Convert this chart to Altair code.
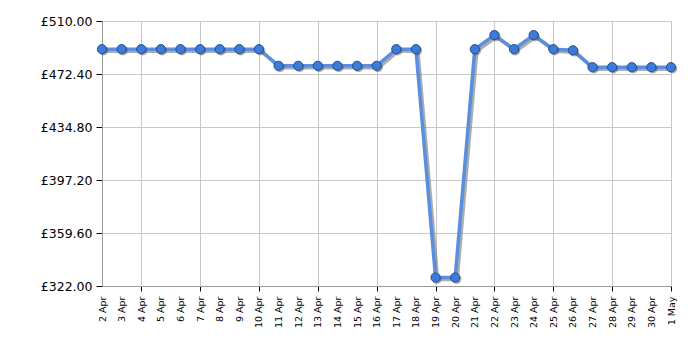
import altair as alt
import pandas as pd

dates = ["2 Apr", "3 Apr", "4 Apr", "5 Apr", "6 Apr", "7 Apr", "8 Apr", "9 Apr", "10 Apr",
         "11 Apr", "12 Apr", "13 Apr", "14 Apr", "15 Apr", "16 Apr", "17 Apr", "18 Apr",
         "19 Apr", "20 Apr", "21 Apr", "22 Apr", "23 Apr", "24 Apr", "25 Apr", "26 Apr",
         "27 Apr", "28 Apr", "29 Apr", "30 Apr", "1 May"]
prices = [490.0, 490.0, 490.0, 490.0, 490.0, 490.0, 490.0, 490.0, 490.0,
          478.2, 478.2, 478.2, 478.2, 478.2, 478.2, 490.0, 490.0,
          328.0, 328.0, 490.0, 500.0, 490.0, 500.0, 490.0, 489.2,
          477.2, 477.2, 477.2, 477.2, 477.2]
y_ticks = [322.0, 359.6, 397.2, 434.8, 472.4, 510.0]

df = pd.DataFrame({"i": list(range(len(dates))), "date": dates, "price": prices})
label_arr = "[" + ",".join("'" + d + "'" for d in dates) + "]"

x = alt.X("i:Q",
          scale=alt.Scale(domain=[0, len(dates) - 1], nice=False, zero=False),
          axis=alt.Axis(values=list(range(len(dates))),
                        labelExpr=label_arr + "[datum.value]",
                        labelAngle=-90, labelAlign="right", labelBaseline="middle",
                        labelFont="DejaVu Sans", labelFontSize=9.5, labelColor="#000000",
                        labelPadding=5, labelOverlap=False,
                        title=None, domainColor="#999999",
                        tickColor={"condition": {"test": "(datum.value - 2) % 3 == 0", "value": "#000000"}, "value": "rgba(0,0,0,0)"},
                        tickSize=5,
                        gridColor={"condition": {"test": "(datum.value - 2) % 3 == 0 || datum.value == 0", "value": "#c8c8c8"}, "value": "rgba(0,0,0,0)"}))
y = alt.Y("price:Q",
          scale=alt.Scale(domain=[322, 510], nice=False, zero=False),
          axis=alt.Axis(values=y_ticks, labelExpr="'£' + format(datum.value, '.2f')",
                        labelFont="DejaVu Sans", labelFontSize=12.5, labelColor="#000000",
                        labelPadding=4, tickSize=6, tickColor="#000000",
                        domainColor="#999999", gridColor="#c8c8c8", title=None))

base = alt.Chart(df)
shadow = base.mark_line(color="#777777", strokeWidth=3.5, opacity=0.6, xOffset=2, yOffset=2).encode(x=x, y=y)
line = base.mark_line(color="#5a8fe0", strokeWidth=3.5).encode(x=x, y=y)
pshadow = base.mark_circle(size=90, color="#555555", opacity=0.5, xOffset=1.5, yOffset=1.5).encode(x=x, y=y)
points = base.mark_point(filled=True, size=85, fill="#3d7bd6", stroke="#1f4f96", strokeWidth=1, opacity=1).encode(x=x, y=y)

chart = alt.layer(shadow, line, pshadow, points).properties(
    width=569, height=265,
    autosize=alt.AutoSizeParams(type="none"),
    padding={"left": 102, "top": 21, "right": 29, "bottom": 64},
).configure_view(stroke="#c8c8c8", strokeWidth=1).configure(background="white")

chart.save("out.html", embed_options={"renderer": "svg", "actions": False})
